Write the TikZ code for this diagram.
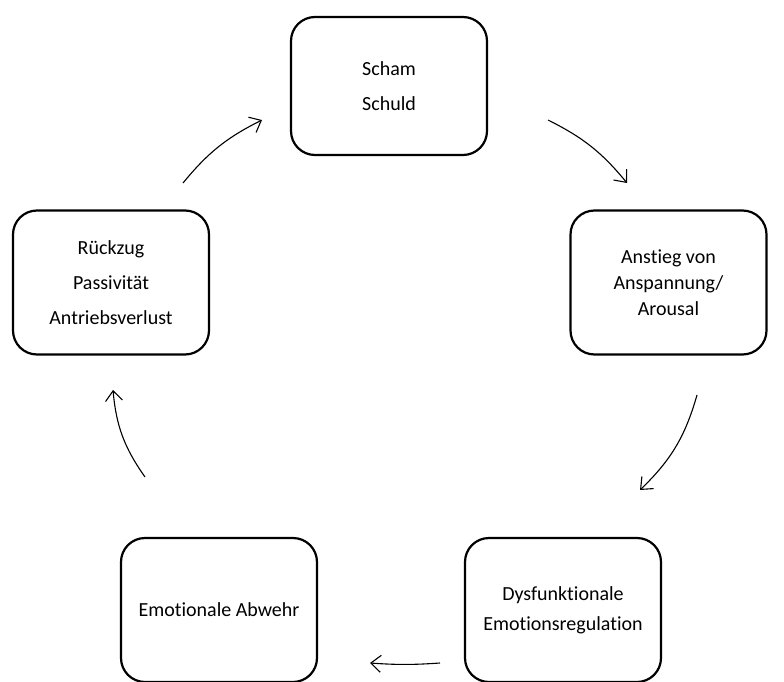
\documentclass[tikz,border=0pt]{standalone}
\usepackage{fontspec}
\setmainfont{Carlito}[Ligatures={NoCommon,NoRare}]
\usetikzlibrary{arrows.meta}
\begin{document}
\begin{tikzpicture}[x=1pt,y=-1pt,
  box/.style={draw, line width=2.2pt, rounded corners=24pt, minimum width=196pt, minimum height=144pt, align=center, inner sep=0pt},
  cyc/.style={line width=1.1pt, -{Straight Barb[length=10pt, width=17pt, line width=1.1pt]}}]
\useasboundingbox (0,0) rectangle (784,682);
\clip (0,0) rectangle (784,682);
\node[box, minimum height=138pt, font=\fontsize{20}{35}\selectfont] (T) at (389,86) {Scham\\Schuld};
\node[box, font=\fontsize{20}{26}\selectfont] (R) at (668.5,282.5) {Anstieg von\\Anspannung/\\Arousal};
\node[box, font=\fontsize{20}{30}\selectfont] (BR) at (563,610) {Dysfunktionale\\Emotionsregulation};
\node[box, font=\fontsize{20}{30}\selectfont] (BL) at (219,610) {Emotionale Abwehr};
\node[box, font=\fontsize{20}{35}\selectfont] (L) at (111,282.5) {Rückzug\\Passivität\\Antriebsverlust};
\coordinate (a1) at (183,183); \coordinate (b1) at (262,120);
\coordinate (a2) at (548,120); \coordinate (b2) at (627,183);
\coordinate (a3) at (697,395); \coordinate (b3) at (640,490);
\coordinate (a4) at (440,663); \coordinate (b4) at (370,663);
\coordinate (a5) at (145,477); \coordinate (b5) at (113,390);
\draw[cyc] (a1) to[bend left=12] (b1);
\draw[cyc] (a2) to[bend left=12] (b2);
\draw[cyc] (a3) to[bend left=15] (b3);
\draw[cyc] (a4) to[bend left=4] (b4);
\draw[cyc] (a5) to[bend left=15] (b5);
\end{tikzpicture}
\end{document}
